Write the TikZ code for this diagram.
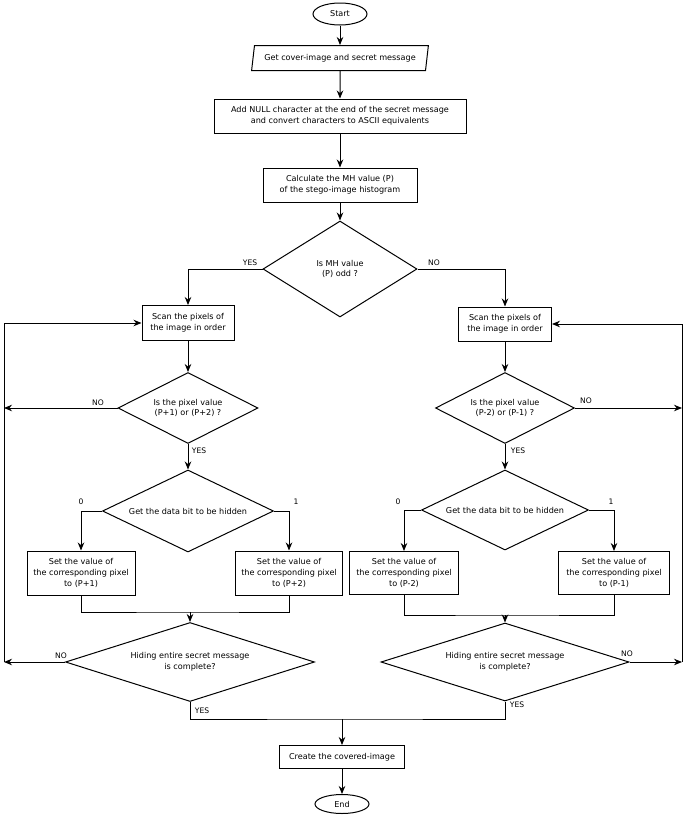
\documentclass[tikz,border=0pt]{standalone}
\usepackage{fontspec}
\setmainfont{DejaVu Sans}
\usetikzlibrary{arrows.meta,shapes.geometric}

\begin{document}
\begin{tikzpicture}[x=1pt,y=-1pt,line width=1pt,
  font=\fontsize{8.1}{10.8}\selectfont,
  box/.style={draw,rectangle,align=center,inner sep=2pt},
  decision/.style={draw,diamond,aspect=2,align=center,inner sep=0pt},
  terminal/.style={draw,ellipse,inner sep=0pt},
  inout/.style={draw,trapezium,trapezium left angle=72,trapezium right angle=108,
    trapezium stretches=true,inner sep=0pt},
  arr/.style={-{Stealth[length=8pt,width=6.5pt]}},
  lbl/.style={font=\fontsize{7.6}{9}\selectfont,inner sep=1pt}]
  \useasboundingbox (0,0) rectangle (685,817);

  % main column
  \node[terminal,minimum width=54pt,minimum height=22pt] (start) at (340,14) {Start};
  \node[inout,minimum width=177pt,minimum height=25pt] (input) at (340,58) {Get cover-image and secret message};
  \node[box,minimum width=252pt,minimum height=34pt] (prep) at (340,116) {Add NULL character at the end of the secret message\\and convert characters to ASCII equivalents};
  \node[box,minimum width=154pt,minimum height=34pt] (calc) at (340,185) {Calculate the MH value (P)\\of the stego-image histogram};
  \node[decision,minimum width=154pt,minimum height=96pt] (odd) at (340,269) {Is MH value\\(P) odd ?};

  % odd branch
  \node[box,minimum width=92pt,minimum height=35pt] (scanL) at (188,323) {Scan the pixels of\\the image in order};
  \node[decision,minimum width=140pt,minimum height=71pt] (pixL) at (188,408) {Is the pixel value\\(P+1) or (P+2) ?};
  \node[decision,minimum width=171pt,minimum height=82pt] (bitL) at (188,511) {Get the data bit to be hidden};
  \node[box,minimum width=108pt,minimum height=44pt] (setL1) at (81,573) {Set the value of\\the corresponding pixel\\to (P+1)};
  \node[box,minimum width=107pt,minimum height=44pt] (setL2) at (289,573) {Set the value of\\the corresponding pixel\\to (P+2)};
  \node[decision,minimum width=249pt,minimum height=79pt] (doneL) at (190,662) {Hiding entire secret message\\is complete?};

  % even branch
  \node[box,minimum width=93pt,minimum height=34pt] (scanR) at (505,324) {Scan the pixels of\\the image in order};
  \node[decision,minimum width=139pt,minimum height=71pt] (pixR) at (505,408) {Is the pixel value\\(P-2) or (P-1) ?};
  \node[decision,minimum width=167pt,minimum height=80pt] (bitR) at (505,510) {Get the data bit to be hidden};
  \node[box,minimum width=109pt,minimum height=43pt] (setR1) at (404,573) {Set the value of\\the corresponding pixel\\to (P-2)};
  \node[box,minimum width=111pt,minimum height=43pt] (setR2) at (614,573) {Set the value of\\the corresponding pixel\\to (P-1)};
  \node[decision,minimum width=248pt,minimum height=62pt] (doneR) at (505,662) {Hiding entire secret message\\is complete?};

  % end
  \node[box,minimum width=125pt,minimum height=23pt] (create) at (342,757) {Create the covered-image};
  \node[terminal,minimum width=54pt,minimum height=19pt] (endN) at (342,804) {End};

  \coordinate (loopL) at (4,662);
  \coordinate (loopR) at (682,662);
  \coordinate (joinL) at (190,612);
  \coordinate (joinR) at (505,615);
  \coordinate (merge) at (342,719);

  \draw[arr] (start) -- (input);
  \draw[arr] (input) -- (prep);
  \draw[arr] (prep) -- (calc);
  \draw[arr] (calc) -- (odd);
  \draw[arr] (odd.west) -| (scanL.north);
  \draw[arr] (odd.east) -| (scanR.north);

  \draw[arr] (scanL) -- (pixL);
  \draw[arr] (pixL) -- (bitL);
  \draw[arr] (bitL.west) -| (setL1.north);
  \draw[arr] (bitL.east) -| (setL2.north);
  \draw (setL1.south) |- (joinL) -| (setL2.south);
  \draw[arr] (joinL) -- (doneL.north);
  \draw[arr] (pixL.west) -- (pixL.west -| loopL);
  \draw[arr] (doneL.west) -- (loopL);
  \draw[arr] (loopL) |- (scanL.west);

  \draw[arr] (scanR) -- (pixR);
  \draw[arr] (pixR) -- (bitR);
  \draw[arr] (bitR.west) -| (setR1.north);
  \draw[arr] (bitR.east) -| (setR2.north);
  \draw (setR1.south) |- (joinR) -| (setR2.south);
  \draw[arr] (joinR) -- (doneR.north);
  \draw[arr] (pixR.east) -- (pixR.east -| loopR);
  \draw[arr] (doneR.east) -- (loopR);
  \draw[arr] (loopR) |- (scanR.east);

  \draw (doneL.south) |- (merge) -| (doneR.south);
  \draw[arr] (merge) -- (create);
  \draw[arr] (create) -- (endN);

  % labels
  \node[lbl] (yesOdd) at (250,263) {YES};
  \node[lbl] (noOdd) at (434,263) {NO};
  \node[lbl] (noPixL) at (98,403) {NO};
  \node[lbl] (yesPixL) at (199,451) {YES};
  \node[lbl] (zeroL) at (81,502) {0};
  \node[lbl] (oneL) at (296,502) {1};
  \node[lbl] (noPixR) at (586,401) {NO};
  \node[lbl] (yesPixR) at (518,451) {YES};
  \node[lbl] (zeroR) at (398,502) {0};
  \node[lbl] (oneR) at (611,502) {1};
  \node[lbl] (noDoneL) at (61,656) {NO};
  \node[lbl] (yesDoneL) at (202,711) {YES};
  \node[lbl] (noDoneR) at (627,654) {NO};
  \node[lbl] (yesDoneR) at (517,705) {YES};
\end{tikzpicture}
\end{document}
